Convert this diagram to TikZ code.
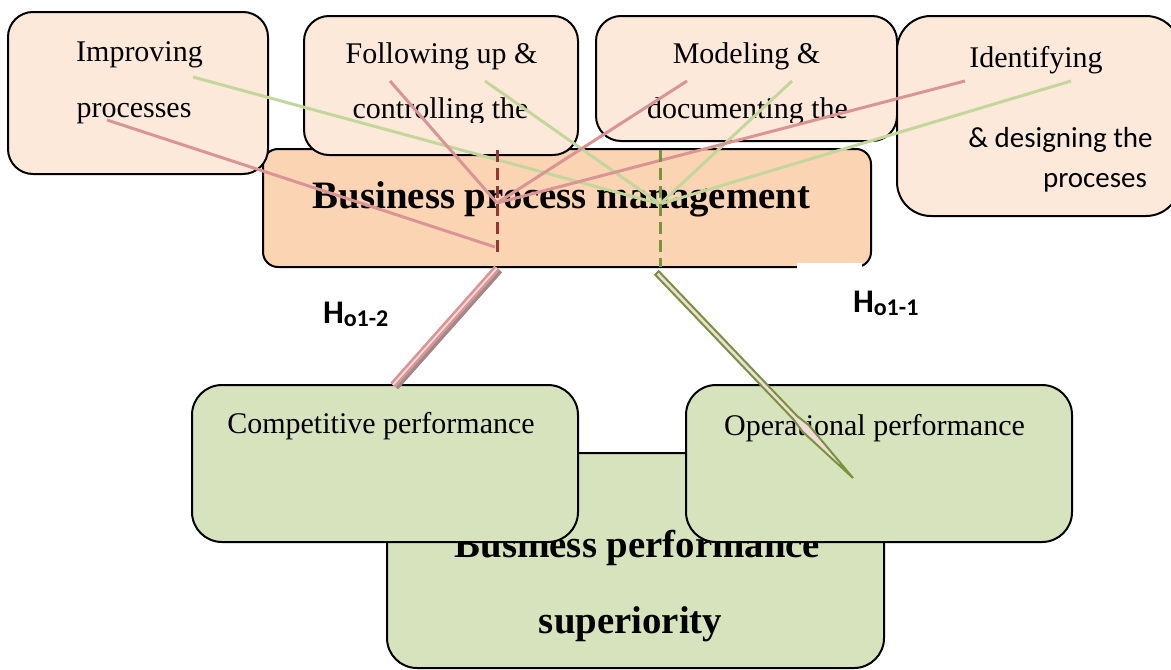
\documentclass[tikz,border=0pt]{standalone}
\usepackage{fontspec}
\setmainfont{Liberation Serif}
\newfontfamily\calibfont{Carlito}
\usetikzlibrary{calc}
\definecolor{peach}{HTML}{FDE9D9}
\definecolor{bpmfill}{HTML}{FBD4B4}
\definecolor{greenfill}{HTML}{D7E3BC}
\definecolor{linkpink}{HTML}{D99594}
\definecolor{linkgreen}{HTML}{C3D69B}
\definecolor{darkred}{HTML}{943634}
\definecolor{olive}{HTML}{77933C}
\definecolor{palepink}{HTML}{F2DBDB}
\definecolor{shadowgrey}{HTML}{A08888}
\tikzset{
  box/.style={draw=black, line width=1pt, inner sep=0pt, outer sep=0pt, rounded corners=12.5pt},
  topbox/.style={box, fill=peach},
  bpmbox/.style={box, fill=bpmfill, rounded corners=7.5pt},
  greenbox/.style={box, fill=greenfill, rounded corners=15pt},
  txt/.style={inner sep=0pt, outer sep=0pt, anchor=base, font=\fontsize{15}{17}\selectfont},
  sanstxt/.style={txt, font=\calibfont\fontsize{14.5}{17}\selectfont},
  bigtxt/.style={inner sep=0pt, outer sep=0pt, anchor=base, font=\bfseries\fontsize{19.4}{22}\selectfont},
  hlab/.style={inner sep=0pt, outer sep=0pt, anchor=base west, font=\calibfont\bfseries\fontsize{16.5}{18}\selectfont},
  thinpink/.style={draw=linkpink, line width=1.5pt},
  thingreen/.style={draw=linkgreen, line width=1.5pt},
  reddash/.style={draw=darkred, line width=1.5pt, dash pattern=on 6pt off 3pt},
  greendash/.style={draw=olive, line width=1.5pt, dash pattern=on 6pt off 3pt},
}
\begin{document}
\begin{tikzpicture}[x=0.5pt,y=-0.5pt]
\useasboundingbox (0,0) rectangle (1171,669);
\fill[white] (0,0) rectangle (1171,669);

% central box
\node[bpmbox, minimum width=304pt, minimum height=59pt] (bpm) at (567,208) {};
\node[bigtxt] (bpmtxt) at (561.5,208) {Business process management};

% top boxes
\node[topbox, minimum width=130pt, minimum height=81pt] (imp) at (138,93) {};
\node[topbox, minimum width=137pt, minimum height=69.5pt] (fol) at (441,85.5) {};
\node[topbox, minimum width=150.5pt, minimum height=62.5pt] (mod) at (746.5,78.5) {};
\node[topbox, minimum width=141.5pt, minimum height=100pt, rounded corners=17pt] (ide) at (1038.5,116) {};

\node[txt] (imp1) at (139.5,61) {Improving};
\node[txt] (imp2) at (134,117) {processes};
\node[txt] (fol1) at (441.5,63) {Following up \&};
\node[txt] (mod1) at (746.5,63) {Modeling \&};
\begin{scope}
  \clip (300,90) rectangle (900,122);
  \node[txt] (fol2) at (440.5,118) {controlling the};
  \node[txt] (mod2) at (747.5,118) {documenting the};
\end{scope}
\node[txt] (ide1) at (1036,67) {Identifying};
\node[sanstxt] (ide2) at (1060.5,147) {\& designing the};
\node[sanstxt] (ide3) at (1095,187) {proceses};

% white patch over the bottom right of the central box
\fill[white] (797,262.5) rectangle (862,274);

% bottom boxes
\node[greenbox, minimum width=248.5pt, minimum height=107.5pt] (bps) at (635.5,560.5) {};
\node[bigtxt] (bps1) at (637.5,557) {Business performance};
\node[bigtxt] (bps2) at (630.5,633) {superiority};
\node[greenbox, minimum width=193pt, minimum height=78.5pt] (com) at (385,463.5) {};
\node[greenbox, minimum width=193pt, minimum height=78.5pt] (ope) at (879,463.5) {};
\node[txt] (comtxt) at (381,433) {Competitive performance};
\node[txt] (opetxt) at (874.5,435) {Operational performance};

% coordinates of the thin connectors
\coordinate (pc) at (497,203);
\coordinate (pl) at (495,247);
\coordinate (gc) at (660,204);
\coordinate (impP) at (107,120);
\coordinate (impG) at (193,77);
\coordinate (folP) at (390,81);
\coordinate (folG) at (485,81);
\coordinate (modP) at (687,81);
\coordinate (modG) at (792,81);
\coordinate (ideP) at (965,81);
\coordinate (ideG) at (1071,81);

\draw[thingreen] (impG) -- (gc);
\draw[thingreen] (folG) -- (gc);
\draw[thingreen] (modG) -- (gc);
\draw[thingreen] (ideG) -- (gc);
\draw[thinpink] (impP) -- (pl);
\draw[thinpink] (folP) -- (pc);
\draw[thinpink] (modP) -- (pc);
\draw[thinpink] (ideP) -- (pc);

% dashed verticals
\coordinate (rdT) at (497,150);
\coordinate (rdB) at (497,253);
\coordinate (gdT) at (660,150);
\coordinate (gdB) at (660,267);
\draw[reddash] (rdT) -- (rdB);
\draw[greendash] (gdT) -- (gdB);

% thick pink connector
\coordinate (pkT) at (497,268);
\coordinate (pkB) at (393,385);
\draw[draw=shadowgrey, line width=3.5pt] ($(pkT)+(2.5,2)$) -- ($(pkB)+(2.5,2)$);
\draw[draw=linkpink, line width=3.5pt] (pkT) -- (pkB);
\draw[draw=palepink, line width=0.9pt] (pkT) -- (pkB);

% green spear connector
\coordinate (grT) at (657,273);
\coordinate (tip) at (853,478);
\filldraw[fill=palepink, draw=olive, line width=1pt, line join=miter]
  (658.8,271.3) -- (797.0,415.9) -- (808.9,425.3) -- (tip) -- (802.4,431.5) -- (793.4,419.3) -- (655.2,274.7) -- cycle;

% hypothesis labels
\node[hlab] (h12) at (323,323) {H\raisebox{-1.6pt}{\fontsize{12}{13}\selectfont o1-2}};
\node[hlab] (h11) at (853,312) {H\raisebox{-1.6pt}{\fontsize{12}{13}\selectfont o1-1}};
\end{tikzpicture}
\end{document}
